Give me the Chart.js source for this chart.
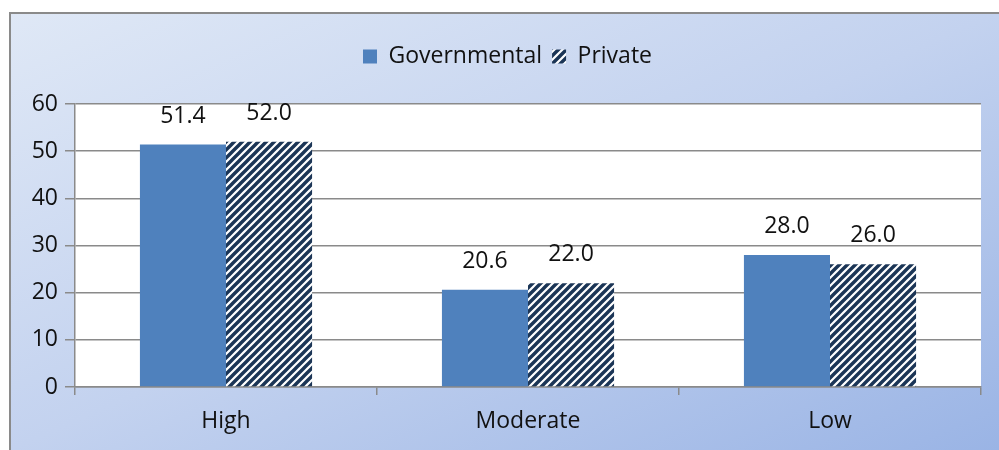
<!DOCTYPE html>
<html>
<head>
<meta charset="utf-8">
<script src="https://cdn.jsdelivr.net/npm/chart.js@4"></script>
<style>
  html, body { margin: 0; padding: 0; background: #fff; }
  #wrap { width: 999px; height: 450px; position: relative; }
</style>
</head>
<body>
<div id="wrap"><canvas id="chart" width="999" height="450"></canvas></div>
<script>
  // Chart data
  const categories = ['High', 'Moderate', 'Low'];
  const governmental = [51.4, 20.6, 28.0];
  const privateSector = [52.0, 22.0, 26.0];
  const yTicks = [0, 10, 20, 30, 40, 50, 60];

  const FONT = '"Open Sans", "DejaVu Sans", sans-serif';
  const BLUE = '#4F81BD';
  const NAVY = '#1B3556';

  // Diagonal hatch pattern for the private series
  function makeHatch() {
    const size = 8;
    const c = document.createElement('canvas');
    c.width = size;
    c.height = size;
    const g = c.getContext('2d');
    g.fillStyle = '#ffffff';
    g.fillRect(0, 0, size, size);
    g.strokeStyle = NAVY;
    g.lineWidth = 3.4;
    g.beginPath();
    g.moveTo(-2, size + 2); g.lineTo(size + 2, -2);
    g.moveTo(-2, 2); g.lineTo(2, -2);
    g.moveTo(size - 2, size + 2); g.lineTo(size + 2, size - 2);
    g.stroke();
    return g.createPattern(c, 'repeat');
  }

  const hatch = makeHatch();

  // Outer frame with gradient, plus white plot area
  const backdrop = {
    id: 'backdrop',
    beforeDraw(chart) {
      const ctx = chart.ctx;
      const a = chart.chartArea;
      ctx.save();
      // gradient runs so that the top-right and bottom-left corners share a tone
      const grad = ctx.createLinearGradient(10, 13, 333, 744);
      grad.addColorStop(0, '#DFE8F6');
      grad.addColorStop(0.5, '#C3D2EF');
      grad.addColorStop(1, '#9AB4E5');
      ctx.fillStyle = grad;
      ctx.fillRect(10, 13, 1000, 450);
      ctx.strokeStyle = '#8A8A8A';
      ctx.lineWidth = 2;
      ctx.strokeRect(10, 13, 1000, 450);
      ctx.fillStyle = '#ffffff';
      ctx.fillRect(a.left, a.top, a.right - a.left, a.bottom - a.top);
      ctx.restore();
    }
  };

  // Value labels above each bar
  const valueLabels = {
    id: 'valueLabels',
    afterDatasetsDraw(chart) {
      const ctx = chart.ctx;
      ctx.save();
      ctx.font = '23px ' + FONT;
      ctx.fillStyle = '#111111';
      ctx.textAlign = 'center';
      ctx.textBaseline = 'alphabetic';
      chart.data.datasets.forEach((ds, i) => {
        chart.getDatasetMeta(i).data.forEach((bar, j) => {
          ctx.fillText(ds.data[j].toFixed(1), bar.x, bar.y - 22);
        });
      });
      ctx.restore();
    }
  };

  // Extra space under the legend, and nudge it a little right
  const legendGap = {
    id: 'legendGap',
    beforeInit(chart) {
      const fit = chart.legend.fit;
      chart.legend.fit = function () {
        fit.bind(chart.legend)();
        this.height += 26;
      };
    },
    afterLayout(chart) {
      chart.legend.left += 17;
      chart.legend.right += 17;
    }
  };

  new Chart(document.getElementById('chart'), {
    type: 'bar',
    data: {
      labels: categories,
      datasets: [
        {
          label: 'Governmental',
          data: governmental,
          backgroundColor: BLUE,
          borderWidth: 0,
          categoryPercentage: 0.57,
          barPercentage: 1.0
        },
        {
          label: 'Private',
          data: privateSector,
          backgroundColor: hatch,
          borderWidth: 0,
          categoryPercentage: 0.57,
          barPercentage: 1.0
        }
      ]
    },
    options: {
      responsive: false,
      animation: false,
      devicePixelRatio: 1,
      layout: { padding: { top: 35, left: 0, right: 18, bottom: 13 } },
      plugins: {
        legend: {
          position: 'top',
          align: 'center',
          labels: {
            boxWidth: 14,
            boxHeight: 14,
            padding: 10,
            color: '#111111',
            font: { family: FONT, size: 23 }
          }
        },
        tooltip: { enabled: false }
      },
      scales: {
        x: {
          afterFit(scale) { scale.height = 50; },
          grid: {
            offset: true,
            drawOnChartArea: false,
            drawTicks: true,
            tickLength: 8,
            color: '#8A8A8A',
            lineWidth: 1.5
          },
          border: { display: true, color: '#8A8A8A', width: 1.5 },
          ticks: {
            color: '#111111',
            padding: 13,
            font: { family: FONT, size: 23 }
          }
        },
        y: {
          min: 0,
          max: 60,
          afterFit(scale) { scale.width = 75; },
          afterBuildTicks(scale) {
            scale.ticks = yTicks.map(v => ({ value: v }));
          },
          grid: {
            color: '#8A8A8A',
            lineWidth: 1.5,
            drawTicks: true,
            tickLength: 10
          },
          border: { display: true, color: '#8A8A8A', width: 1.5 },
          ticks: {
            color: '#111111',
            padding: 7,
            font: { family: FONT, size: 23 }
          }
        }
      }
    },
    plugins: [backdrop, valueLabels, legendGap]
  });
</script>
</body>
</html>
